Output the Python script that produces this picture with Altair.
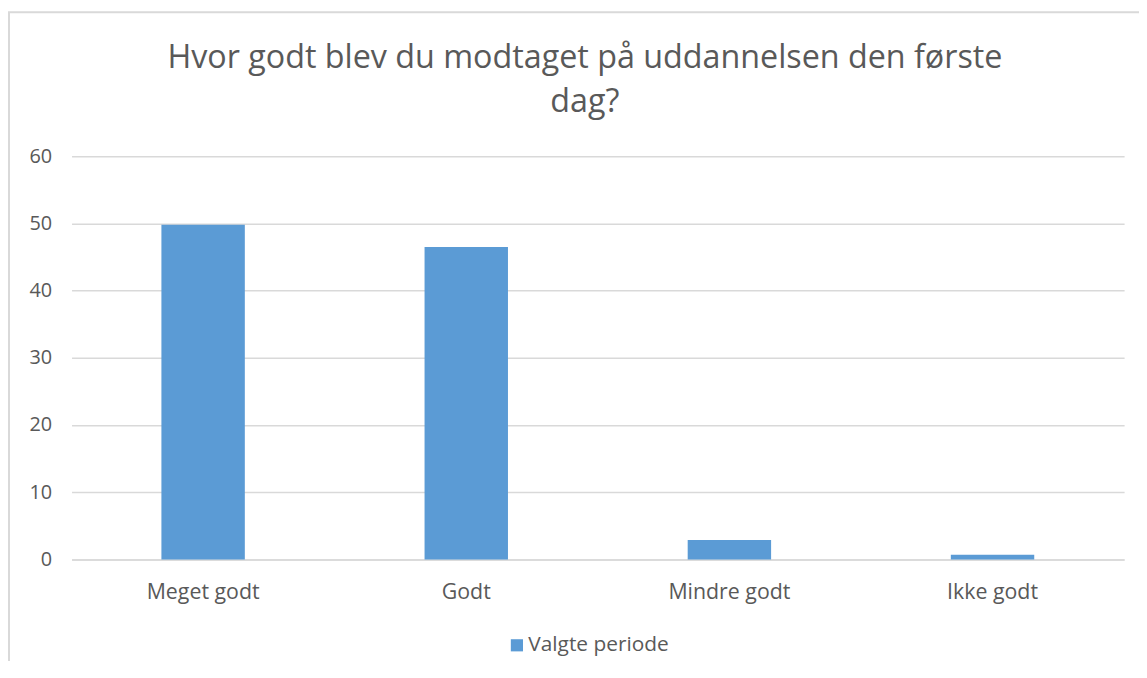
import altair as alt
import pandas as pd

categories = ["Meget godt", "Godt", "Mindre godt", "Ikke godt"]
values = [49.8, 46.5, 2.9, 0.7]
series_name = "Valgte periode"
y_ticks = [0, 10, 20, 30, 40, 50, 60]
title_lines = ["Hvor godt blev du modtaget på uddannelsen den første", "dag?"]

df = pd.DataFrame({"kategori": categories, "værdi": values, "serie": [series_name] * len(categories)})
one = pd.DataFrame({"k": [0]})

FONT = "Open Sans"
TXT = "#595959"
GRID = "#D9D9D9"

bars = alt.Chart(df).mark_bar(color="#5B9BD5").encode(
    x=alt.X("kategori:N", sort=categories,
            scale=alt.Scale(paddingInner=0.683, paddingOuter=0.3415),
            axis=alt.Axis(title=None, labelAngle=0, labelFontSize=21.5, labelColor=TXT,
                          labelFont=FONT, labelPadding=22, ticks=False,
                          domainColor=GRID, domainWidth=1.5)),
    y=alt.Y("værdi:Q", scale=alt.Scale(domain=[0, 60], nice=False),
            axis=alt.Axis(title=None, values=y_ticks, labelFontSize=20, labelColor=TXT,
                          labelFont=FONT, labelPadding=20, ticks=False, domain=False,
                          gridColor=GRID, gridWidth=1.5)),
    color=alt.Color("serie:N", scale=alt.Scale(range=["#5B9BD5"]),
                    legend=alt.Legend(title=None, orient="none", legendX=438, legendY=482,
                                      symbolType="square", symbolSize=150,
                                      symbolStrokeWidth=0, labelFontSize=21,
                                      labelFont=FONT, labelColor=TXT, labelOffset=1)),
)

title = alt.Chart(one).mark_text(
    text=title_lines, font=FONT, fontSize=32.5, color=TXT, align="center",
    baseline="alphabetic", lineHeight=44
).encode(x=alt.value(517), y=alt.value(-89))

left_border = alt.Chart(one).mark_rule(color=GRID, strokeWidth=2).encode(
    x=alt.value(-63), y=alt.value(-145), y2=alt.value(560)
)
top_border = alt.Chart(one).mark_rule(color=GRID, strokeWidth=2).encode(
    x=alt.value(-64), x2=alt.value(1100), y=alt.value(-145)
)

chart = alt.layer(bars, title, left_border, top_border).properties(
    width=1060, height=406,
    autosize=alt.AutoSizeParams(type="none"),
    padding={"left": 64, "top": 147, "right": 15, "bottom": 100},
).configure_view(stroke=None)

chart.save("out.html", embed_options={"renderer": "svg", "actions": False})
